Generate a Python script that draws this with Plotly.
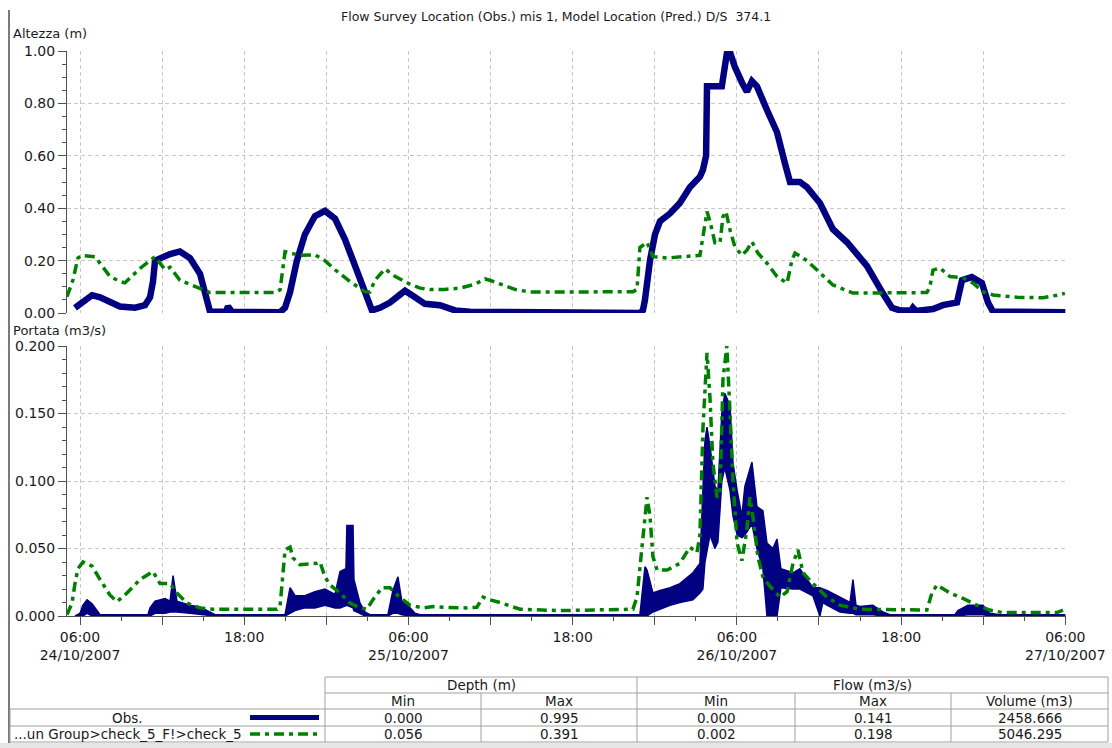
import plotly.graph_objects as go

# ---------------- data ----------------
obs_depth_time = [
    "2007-10-24 05:38", "2007-10-24 06:22", "2007-10-24 06:53", "2007-10-24 07:28", "2007-10-24 08:11",
    "2007-10-24 08:55", "2007-10-24 10:01", "2007-10-24 10:45", "2007-10-24 11:07", "2007-10-24 11:20",
    "2007-10-24 11:29", "2007-10-24 11:51", "2007-10-24 12:35", "2007-10-24 13:18", "2007-10-24 14:02",
    "2007-10-24 14:46", "2007-10-24 15:17", "2007-10-24 15:30", "2007-10-24 16:40", "2007-10-24 16:49",
    "2007-10-24 17:06", "2007-10-24 20:37", "2007-10-24 20:59", "2007-10-24 21:21", "2007-10-24 21:51",
    "2007-10-24 22:26", "2007-10-24 23:10", "2007-10-24 23:54", "2007-10-25 00:38", "2007-10-25 01:22",
    "2007-10-25 02:06", "2007-10-25 02:49", "2007-10-25 03:20", "2007-10-25 03:55", "2007-10-25 04:39",
    "2007-10-25 05:23", "2007-10-25 05:45", "2007-10-25 06:29", "2007-10-25 07:12", "2007-10-25 08:18",
    "2007-10-25 09:24", "2007-10-25 10:30", "2007-10-25 14:09", "2007-10-25 22:55", "2007-10-25 23:08",
    "2007-10-25 23:17", "2007-10-25 23:39", "2007-10-26 00:01", "2007-10-26 00:23", "2007-10-26 01:07",
    "2007-10-26 01:50", "2007-10-26 02:34", "2007-10-26 03:18", "2007-10-26 03:31", "2007-10-26 03:45",
    "2007-10-26 03:49", "2007-10-26 04:54", "2007-10-26 05:16", "2007-10-26 05:30", "2007-10-26 05:51",
    "2007-10-26 06:22", "2007-10-26 06:44", "2007-10-26 07:06", "2007-10-26 07:28", "2007-10-26 08:12",
    "2007-10-26 08:56", "2007-10-26 09:31", "2007-10-26 09:53", "2007-10-26 10:36", "2007-10-26 11:07",
    "2007-10-26 12:04", "2007-10-26 13:01", "2007-10-26 14:03", "2007-10-26 15:30", "2007-10-26 16:40",
    "2007-10-26 17:20", "2007-10-26 17:55", "2007-10-26 18:45", "2007-10-26 18:52", "2007-10-26 19:05",
    "2007-10-26 20:20", "2007-10-26 21:03", "2007-10-26 22:05", "2007-10-26 22:27", "2007-10-26 23:10",
    "2007-10-26 23:54", "2007-10-27 00:21", "2007-10-27 00:43", "2007-10-27 06:00",
]
obs_depth = [
    0.02, 0.05, 0.068, 0.06, 0.04,
    0.025, 0.02, 0.03, 0.06, 0.12,
    0.20, 0.21, 0.225, 0.235, 0.21,
    0.15, 0.05, 0.005, 0.005, 0.025,
    0.005, 0.003, 0.02, 0.08, 0.20,
    0.30, 0.37, 0.39, 0.36, 0.28,
    0.18, 0.08, 0.01, 0.02, 0.04,
    0.07, 0.085, 0.06, 0.035, 0.03,
    0.01, 0.005, 0.005, 0.0, 0.01,
    0.05, 0.20, 0.30, 0.35, 0.38,
    0.42, 0.48, 0.52, 0.546, 0.60,
    0.865, 0.865, 0.99, 0.995, 0.94,
    0.88, 0.845, 0.885, 0.865, 0.775,
    0.69, 0.57, 0.50, 0.50, 0.48,
    0.42, 0.32, 0.27, 0.18, 0.075,
    0.02, 0.01, 0.01, 0.02, 0.008,
    0.015, 0.03, 0.04, 0.125, 0.137,
    0.115, 0.04, 0.005, 0.003,
]

pred_depth_time = [
    "2007-10-24 05:03", "2007-10-24 05:29", "2007-10-24 05:51", "2007-10-24 06:09", "2007-10-24 07:06",
    "2007-10-24 08:11", "2007-10-24 08:55", "2007-10-24 09:17", "2007-10-24 10:23", "2007-10-24 11:29",
    "2007-10-24 12:13", "2007-10-24 12:35", "2007-10-24 13:18", "2007-10-24 14:24", "2007-10-24 15:30",
    "2007-10-24 20:15", "2007-10-24 20:37", "2007-10-24 20:59", "2007-10-24 22:04", "2007-10-24 23:10",
    "2007-10-24 23:54", "2007-10-25 00:38", "2007-10-25 01:44", "2007-10-25 02:49", "2007-10-25 03:11",
    "2007-10-25 03:33", "2007-10-25 04:17", "2007-10-25 05:01", "2007-10-25 05:23", "2007-10-25 06:07",
    "2007-10-25 06:51", "2007-10-25 07:34", "2007-10-25 08:40", "2007-10-25 09:46", "2007-10-25 10:52",
    "2007-10-25 11:36", "2007-10-25 11:57", "2007-10-25 12:41", "2007-10-25 13:47", "2007-10-25 14:53",
    "2007-10-25 22:24", "2007-10-25 22:42", "2007-10-25 22:55", "2007-10-25 23:26", "2007-10-25 23:52",
    "2007-10-26 00:54", "2007-10-26 03:18", "2007-10-26 03:31", "2007-10-26 03:49", "2007-10-26 04:02",
    "2007-10-26 04:24", "2007-10-26 04:46", "2007-10-26 04:59", "2007-10-26 05:12", "2007-10-26 05:30",
    "2007-10-26 05:51", "2007-10-26 06:22", "2007-10-26 06:44", "2007-10-26 07:06", "2007-10-26 07:32",
    "2007-10-26 08:12", "2007-10-26 08:56", "2007-10-26 09:40", "2007-10-26 10:01", "2007-10-26 10:15",
    "2007-10-26 11:07", "2007-10-26 12:04", "2007-10-26 13:01", "2007-10-26 14:29", "2007-10-26 19:53",
    "2007-10-26 20:06", "2007-10-26 20:20", "2007-10-26 20:50", "2007-10-26 21:34", "2007-10-26 22:31",
    "2007-10-26 23:15", "2007-10-26 23:59", "2007-10-27 00:43", "2007-10-27 02:28", "2007-10-27 04:22",
    "2007-10-27 05:23", "2007-10-27 05:58",
]
pred_depth = [
    0.062, 0.126, 0.21, 0.22, 0.215,
    0.14, 0.12, 0.115, 0.17, 0.215,
    0.165, 0.175, 0.125, 0.10, 0.078,
    0.078, 0.088, 0.234, 0.22, 0.222,
    0.20, 0.165, 0.12, 0.081, 0.08,
    0.125, 0.168, 0.14, 0.13, 0.11,
    0.095, 0.09, 0.09, 0.095, 0.11,
    0.13, 0.125, 0.11, 0.09, 0.08,
    0.081, 0.09, 0.25, 0.27, 0.215,
    0.21, 0.22, 0.29, 0.387, 0.35,
    0.268, 0.268, 0.368, 0.387, 0.317,
    0.253, 0.22, 0.24, 0.272, 0.229,
    0.19, 0.139, 0.114, 0.20, 0.229,
    0.20, 0.153, 0.107, 0.076, 0.078,
    0.10, 0.164, 0.172, 0.139, 0.134,
    0.115, 0.081, 0.069, 0.06, 0.058,
    0.068, 0.075,
]

pred_flow_time = [
    "2007-10-24 05:03", "2007-10-24 05:25", "2007-10-24 05:38", "2007-10-24 05:51", "2007-10-24 06:13",
    "2007-10-24 06:53", "2007-10-24 07:28", "2007-10-24 08:11", "2007-10-24 08:42", "2007-10-24 09:26",
    "2007-10-24 10:23", "2007-10-24 11:20", "2007-10-24 11:51", "2007-10-24 12:35", "2007-10-24 13:05",
    "2007-10-24 13:49", "2007-10-24 14:46", "2007-10-24 15:43", "2007-10-24 20:24", "2007-10-24 20:37",
    "2007-10-24 20:59", "2007-10-24 21:21", "2007-10-24 21:34", "2007-10-24 22:04", "2007-10-24 23:19",
    "2007-10-24 23:32", "2007-10-24 23:54", "2007-10-25 00:16", "2007-10-25 01:00", "2007-10-25 01:44",
    "2007-10-25 02:27", "2007-10-25 02:58", "2007-10-25 03:24", "2007-10-25 04:04", "2007-10-25 04:39",
    "2007-10-25 05:14", "2007-10-25 06:07", "2007-10-25 07:04", "2007-10-25 07:48", "2007-10-25 08:31",
    "2007-10-25 10:17", "2007-10-25 11:00", "2007-10-25 11:27", "2007-10-25 11:57", "2007-10-25 12:41",
    "2007-10-25 14:09", "2007-10-25 17:04", "2007-10-25 22:24", "2007-10-25 22:42", "2007-10-25 23:04",
    "2007-10-25 23:26", "2007-10-25 23:39", "2007-10-25 23:52", "2007-10-26 00:10", "2007-10-26 00:54",
    "2007-10-26 01:50", "2007-10-26 02:34", "2007-10-26 03:05", "2007-10-26 03:18", "2007-10-26 03:31",
    "2007-10-26 03:49", "2007-10-26 04:02", "2007-10-26 04:15", "2007-10-26 04:33", "2007-10-26 04:46",
    "2007-10-26 04:59", "2007-10-26 05:16", "2007-10-26 05:30", "2007-10-26 05:43", "2007-10-26 06:01",
    "2007-10-26 06:22", "2007-10-26 06:44", "2007-10-26 06:57", "2007-10-26 07:10", "2007-10-26 07:32",
    "2007-10-26 07:54", "2007-10-26 08:25", "2007-10-26 09:09", "2007-10-26 09:40", "2007-10-26 10:06",
    "2007-10-26 10:28", "2007-10-26 10:50", "2007-10-26 11:33", "2007-10-26 12:35", "2007-10-26 13:32",
    "2007-10-26 14:59", "2007-10-26 19:53", "2007-10-26 20:15", "2007-10-26 20:37", "2007-10-26 21:34",
    "2007-10-26 22:31", "2007-10-26 23:32", "2007-10-27 00:29", "2007-10-27 01:26", "2007-10-27 05:23",
    "2007-10-27 05:50",
]
pred_flow = [
    0.001, 0.0096, 0.024, 0.035, 0.040,
    0.037, 0.027, 0.0156, 0.0106, 0.017,
    0.027, 0.033, 0.024, 0.024, 0.017,
    0.0096, 0.006, 0.005, 0.005, 0.007,
    0.049, 0.051, 0.043, 0.038, 0.039,
    0.040, 0.029, 0.023, 0.017, 0.0096,
    0.006, 0.005, 0.012, 0.021, 0.021,
    0.015, 0.008, 0.006, 0.007, 0.0065,
    0.006, 0.0065, 0.014, 0.012, 0.010,
    0.005, 0.004, 0.005, 0.014, 0.051,
    0.088, 0.074, 0.044, 0.034, 0.034,
    0.039, 0.051, 0.047, 0.060, 0.138,
    0.195, 0.162, 0.113, 0.088, 0.090,
    0.175, 0.200, 0.150, 0.100, 0.054,
    0.041, 0.064, 0.088, 0.074, 0.044,
    0.029, 0.022, 0.014, 0.018, 0.039,
    0.049, 0.032, 0.024, 0.014, 0.008,
    0.005, 0.0044, 0.017, 0.023, 0.017,
    0.013, 0.008, 0.0044, 0.0025, 0.0025,
    0.0044,
]

obs_flow_time = [
    "2007-10-24 05:38", "2007-10-24 06:00", "2007-10-24 06:13", "2007-10-24 06:31", "2007-10-24 06:53",
    "2007-10-24 07:15", "2007-10-24 07:28", "2007-10-24 10:58", "2007-10-24 11:07", "2007-10-24 11:29",
    "2007-10-24 12:13", "2007-10-24 12:35", "2007-10-24 12:48", "2007-10-24 13:05", "2007-10-24 14:02",
    "2007-10-24 14:46", "2007-10-24 15:30", "2007-10-24 15:52", "2007-10-24 20:59", "2007-10-24 21:21",
    "2007-10-24 21:43", "2007-10-24 22:26", "2007-10-24 23:10", "2007-10-24 23:54", "2007-10-25 00:38",
    "2007-10-25 01:00", "2007-10-25 01:26", "2007-10-25 01:30", "2007-10-25 01:57", "2007-10-25 02:01",
    "2007-10-25 02:27", "2007-10-25 02:49", "2007-10-25 03:11", "2007-10-25 04:30", "2007-10-25 04:52",
    "2007-10-25 05:14", "2007-10-25 05:31", "2007-10-25 06:07", "2007-10-25 06:29", "2007-10-25 06:51",
    "2007-10-25 22:55", "2007-10-25 23:17", "2007-10-25 23:26", "2007-10-25 23:52", "2007-10-26 00:23",
    "2007-10-26 01:07", "2007-10-26 01:50", "2007-10-26 02:47", "2007-10-26 03:18", "2007-10-26 03:31",
    "2007-10-26 03:40", "2007-10-26 03:49", "2007-10-26 04:02", "2007-10-26 04:24", "2007-10-26 04:37",
    "2007-10-26 04:54", "2007-10-26 05:07", "2007-10-26 05:30", "2007-10-26 05:43", "2007-10-26 06:01",
    "2007-10-26 06:22", "2007-10-26 06:35", "2007-10-26 07:06", "2007-10-26 07:28", "2007-10-26 07:54",
    "2007-10-26 08:12", "2007-10-26 08:38", "2007-10-26 08:56", "2007-10-26 09:13", "2007-10-26 10:06",
    "2007-10-26 10:36", "2007-10-26 11:33", "2007-10-26 12:04", "2007-10-26 12:17", "2007-10-26 12:35",
    "2007-10-26 13:32", "2007-10-26 14:16", "2007-10-26 14:29", "2007-10-26 14:42", "2007-10-26 14:59",
    "2007-10-26 15:56", "2007-10-26 16:40", "2007-10-26 17:11", "2007-10-26 21:56", "2007-10-26 22:09",
    "2007-10-26 22:53", "2007-10-26 23:59", "2007-10-27 00:29", "2007-10-27 01:13", "2007-10-27 06:00",
]
obs_flow_low = [
    0.0, 0.0, 0.0, 0.002, 0.0,
    0.0, 0.0, 0.0, 0.0, 0.002,
    0.002, 0.003, 0.003, 0.003, 0.002,
    0.001, 0.0, 0.0, 0.0, 0.002,
    0.004, 0.006, 0.006, 0.008, 0.006,
    0.006, 0.008, 0.008, 0.006, 0.004,
    0.002, 0.0, 0.0, 0.0, 0.002,
    0.002, 0.001, 0.0, 0.0, 0.0,
    0.0, 0.0, 0.0, 0.003, 0.005,
    0.008, 0.010, 0.012, 0.017, 0.020,
    0.040, 0.049, 0.060, 0.050, 0.055,
    0.100, 0.110, 0.093, 0.074, 0.060,
    0.058, 0.060, 0.068, 0.050, 0.035,
    0.0, 0.0, 0.0, 0.021, 0.020,
    0.020, 0.015, 0.0, 0.010, 0.008,
    0.003, 0.002, 0.002, 0.001, 0.001,
    0.001, 0.0, 0.0, 0.0, 0.0,
    0.001, 0.001, 0.0, 0.0, 0.0,
]
obs_flow_high = [
    0.0, 0.002, 0.008, 0.012, 0.009,
    0.004, 0.001, 0.001, 0.006, 0.011,
    0.013, 0.011, 0.030, 0.011, 0.008,
    0.0067, 0.003, 0.001, 0.001, 0.021,
    0.015, 0.015, 0.018, 0.020, 0.016,
    0.033, 0.035, 0.067, 0.067, 0.027,
    0.010, 0.003, 0.001, 0.001, 0.019,
    0.029, 0.011, 0.006, 0.002, 0.001,
    0.001, 0.0365, 0.034, 0.017, 0.019,
    0.021, 0.024, 0.032, 0.039, 0.088,
    0.130, 0.140, 0.126, 0.096, 0.093,
    0.150, 0.165, 0.156, 0.113, 0.093,
    0.074, 0.096, 0.114, 0.081, 0.078,
    0.054, 0.050, 0.057, 0.035, 0.032,
    0.035, 0.021, 0.021, 0.020, 0.019,
    0.014, 0.010, 0.027, 0.008, 0.007,
    0.008, 0.003, 0.001, 0.001, 0.004,
    0.008, 0.008, 0.002, 0.001, 0.001,
]

title_text = "Flow Survey Location (Obs.) mis 1, Model Location (Pred.) D/S  374.1"
depth_title = "Altezza (m)"
flow_title = "Portata (m3/s)"
depth_ticks = [0.0, 0.2, 0.4, 0.6, 0.8, 1.0]
flow_ticks = [0.0, 0.05, 0.10, 0.15, 0.20]
x_tick_times = [
    "2007-10-24 06:00", "2007-10-24 12:00", "2007-10-24 18:00", "2007-10-25 00:00",
    "2007-10-25 06:00", "2007-10-25 12:00", "2007-10-25 18:00", "2007-10-26 00:00",
    "2007-10-26 06:00", "2007-10-26 12:00", "2007-10-26 18:00", "2007-10-27 00:00",
    "2007-10-27 06:00",
]
x_tick_labels = [
    "06:00<br>24/10/2007", "", "18:00", "",
    "06:00<br>25/10/2007", "", "18:00", "",
    "06:00<br>26/10/2007", "", "18:00", "",
    "06:00<br>27/10/2007",
]
series_names = ["Obs.", "...un Group>check_5_F!>check_5"]
table_group_headers = ["Depth (m)", "Flow (m3/s)"]
table_col_headers = ["Min", "Max", "Min", "Max", "Volume (m3)"]
table_rows = [
    ["0.000", "0.995", "0.000", "0.141", "2458.666"],
    ["0.056", "0.391", "0.002", "0.198", "5046.295"],
]

# ---------------- style ----------------
NAVY = "#000080"
GREEN = "#008000"
GRID = "#c8c8c8"
AXIS = "#505050"
TXT = "#1a1a1a"
FONT = "DejaVu Sans"
GREEN_DASH = "10px,5px,4px,5px"
GRID_DASH = "4px,3px"
W, H = 1112, 748


def fx(x):
    return x / W


def fy(y):
    return 1 - y / H


fig = go.Figure()

fig.add_trace(go.Scatter(x=obs_depth_time, y=obs_depth, mode="lines",
                         line=dict(color=NAVY, width=6.5), xaxis="x", yaxis="y"))
fig.add_trace(go.Scatter(x=pred_depth_time, y=pred_depth, mode="lines",
                         line=dict(color=GREEN, width=3.5, dash=GREEN_DASH), xaxis="x", yaxis="y"))

fig.add_trace(go.Scatter(x=obs_flow_time, y=obs_flow_low, mode="lines",
                         line=dict(color=NAVY, width=1.5), xaxis="x2", yaxis="y2"))
fig.add_trace(go.Scatter(x=obs_flow_time, y=obs_flow_high, mode="lines", fill="tonexty",
                         fillcolor=NAVY, line=dict(color=NAVY, width=1.5), xaxis="x2", yaxis="y2"))
fig.add_trace(go.Scatter(x=pred_flow_time, y=pred_flow, mode="lines",
                         line=dict(color=GREEN, width=3.5, dash=GREEN_DASH), xaxis="x2", yaxis="y2"))

xrange_ = ["2007-10-24 05:03", "2007-10-27 06:03"]
xdom = [fx(67), fx(1066)]

common_x = dict(range=xrange_, domain=xdom, type="date", tickmode="array",
                tickvals=x_tick_times, ticktext=x_tick_labels, showgrid=True, gridcolor=GRID,
                griddash=GRID_DASH, gridwidth=1, zeroline=False, automargin=False)

fig.update_layout(
    width=W, height=H, margin=dict(l=0, r=0, t=0, b=0, pad=0, autoexpand=False),
    paper_bgcolor="white", plot_bgcolor="white", showlegend=False,
    font=dict(family=FONT, size=14, color=TXT),
    xaxis=dict(**common_x, anchor="y", showticklabels=False, ticks="", showline=False),
    yaxis=dict(domain=[fy(313), fy(51)], range=[0, 1.0], tickmode="array", tickvals=depth_ticks,
               tickformat=".2f", showline=True, linecolor=AXIS, linewidth=1, ticks="outside",
               ticklen=8, tickcolor=AXIS, showgrid=True, gridcolor=GRID, griddash=GRID_DASH,
               zeroline=False, anchor="x", automargin=False,
               minor=dict(dtick=0.05, ticklen=4, tickcolor=AXIS, ticks="outside", showgrid=False)),
    xaxis2=dict(**common_x, anchor="y2", showticklabels=True,
                ticks="outside", ticklen=8, tickcolor=AXIS, showline=True, linecolor=AXIS,
                linewidth=1,
                minor=dict(dtick=3 * 3600 * 1000, tick0="2007-10-24 00:00", ticklen=4,
                           tickcolor=AXIS, ticks="outside", showgrid=False)),
    yaxis2=dict(domain=[fy(616), fy(346)], range=[0, 0.2], tickmode="array", tickvals=flow_ticks,
                tickformat=".3f", showline=True, linecolor=AXIS, linewidth=1, ticks="outside",
                ticklen=8, tickcolor=AXIS, showgrid=True, gridcolor=GRID, griddash=GRID_DASH,
                zeroline=False, anchor="x2", automargin=False,
                minor=dict(dtick=0.01, ticklen=4, tickcolor=AXIS, ticks="outside", showgrid=False)),
)


def note(text, x, y, anchor="center", size=13.5):
    return dict(text=text, x=fx(x), y=fy(y), xref="paper", yref="paper", xanchor=anchor,
                yanchor="middle", showarrow=False, font=dict(size=size, color=TXT))


ann = [
    note(title_text, 556, 17, "center", 12.5),
    note(depth_title, 11, 34, "left", 13),
    note(flow_title, 11, 330, "left", 13),
]

shapes = []
LINEC = "#a0a0a0"
# window frame
shapes.append(dict(type="line", xref="paper", yref="paper", x0=fx(9), x1=fx(9), y0=fy(10), y1=fy(743),
                   line=dict(color="#7a7a7a", width=2)))
shapes.append(dict(type="rect", xref="paper", yref="paper", x0=0, x1=1, y0=0, y1=fy(743),
                   fillcolor="#e6e6e6", line=dict(width=0)))

# table grid
cols = [325, 481, 637, 795, 951, 1108]
rows = [677, 693, 709, 726, 742]
for y in rows[:2]:
    shapes.append(dict(type="line", xref="paper", yref="paper", x0=fx(325), x1=fx(1108),
                       y0=fy(y), y1=fy(y), line=dict(color=LINEC, width=1)))
for y in rows[2:]:
    shapes.append(dict(type="line", xref="paper", yref="paper", x0=fx(10), x1=fx(1108),
                       y0=fy(y), y1=fy(y), line=dict(color=LINEC, width=1)))
shapes.append(dict(type="line", xref="paper", yref="paper", x0=fx(10), x1=fx(10),
                   y0=fy(709), y1=fy(742), line=dict(color=LINEC, width=1)))
for c in [325, 637, 1108]:
    shapes.append(dict(type="line", xref="paper", yref="paper", x0=fx(c), x1=fx(c),
                       y0=fy(677), y1=fy(742), line=dict(color=LINEC, width=1)))
for c in [481, 795, 951]:
    shapes.append(dict(type="line", xref="paper", yref="paper", x0=fx(c), x1=fx(c),
                       y0=fy(693), y1=fy(742), line=dict(color=LINEC, width=1)))

# legend samples
shapes.append(dict(type="line", xref="paper", yref="paper", x0=fx(250), x1=fx(319),
                   y0=fy(717.5), y1=fy(717.5), line=dict(color=NAVY, width=5)))
shapes.append(dict(type="line", xref="paper", yref="paper", x0=fx(250), x1=fx(319),
                   y0=fy(734), y1=fy(734), line=dict(color=GREEN, width=3.5, dash=GREEN_DASH)))

ann.append(note(table_group_headers[0], (325 + 637) / 2, 685))
ann.append(note(table_group_headers[1], (637 + 1108) / 2, 685))
for i, h in enumerate(table_col_headers):
    ann.append(note(h, (cols[i] + cols[i + 1]) / 2, 701))
row_y = [717.5, 734]
for r, vals in enumerate(table_rows):
    for i, v in enumerate(vals):
        ann.append(note(v, (cols[i] + cols[i + 1]) / 2, row_y[r]))
ann.append(note(series_names[0], 127, row_y[0]))
ann.append(note(series_names[1], 12, row_y[1], "left"))

fig.update_layout(annotations=ann, shapes=shapes)
fig.write_html("out.html")
